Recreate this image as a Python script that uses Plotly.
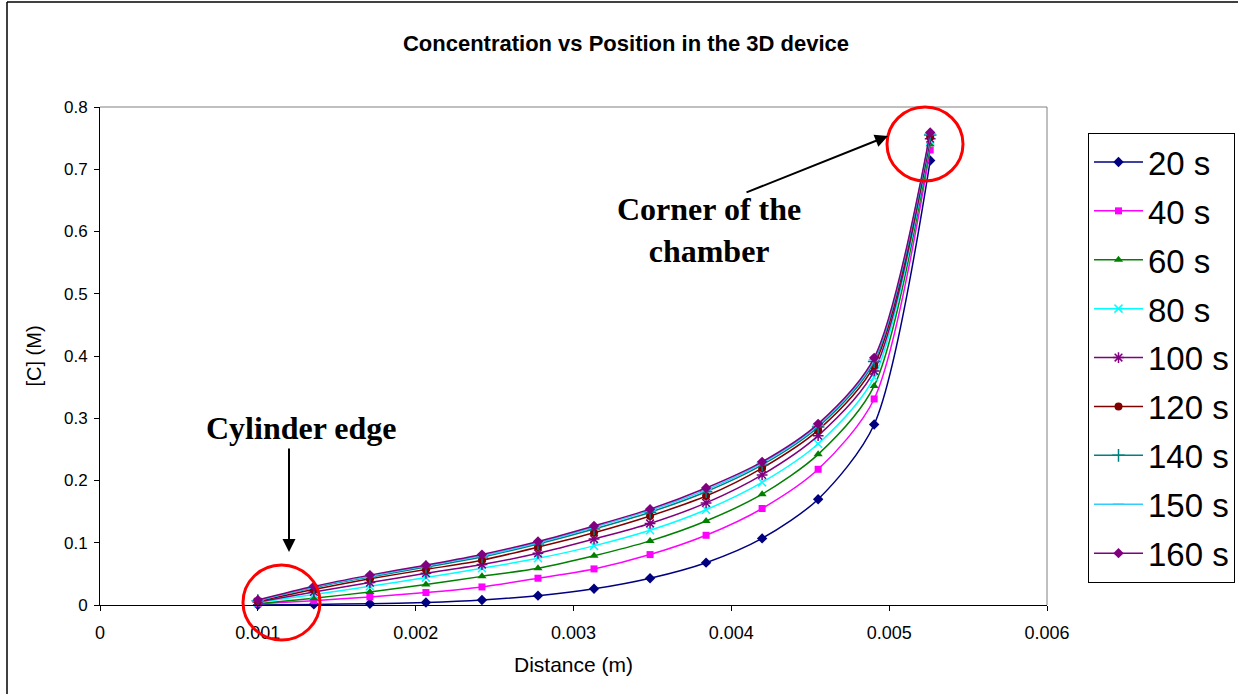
import plotly.graph_objects as go

# Sample positions along the device (m)
distance = [0.001, 0.001355, 0.00171, 0.002065, 0.00242, 0.002775, 0.00313,
            0.003485, 0.00384, 0.004195, 0.00455, 0.004905, 0.00526]

# Concentration [C] (M) at each time step
c_20s = [0.000, 0.001, 0.002, 0.004, 0.008, 0.015, 0.026, 0.043, 0.068, 0.107, 0.170, 0.290, 0.714]
c_40s = [0.002, 0.007, 0.013, 0.020, 0.029, 0.043, 0.058, 0.081, 0.112, 0.155, 0.218, 0.331, 0.731]
c_60s = [0.002, 0.011, 0.021, 0.033, 0.046, 0.059, 0.079, 0.103, 0.135, 0.178, 0.242, 0.352, 0.740]
c_80s = [0.004, 0.017, 0.030, 0.044, 0.059, 0.075, 0.095, 0.120, 0.153, 0.197, 0.259, 0.366, 0.746]
c_100s = [0.005, 0.021, 0.036, 0.051, 0.065, 0.083, 0.106, 0.131, 0.164, 0.209, 0.272, 0.376, 0.749]
c_120s = [0.006, 0.025, 0.042, 0.057, 0.072, 0.093, 0.116, 0.143, 0.175, 0.220, 0.281, 0.385, 0.752]
c_140s = [0.007, 0.028, 0.045, 0.061, 0.077, 0.098, 0.122, 0.149, 0.182, 0.225, 0.286, 0.391, 0.755]
c_150s = [0.007, 0.029, 0.046, 0.063, 0.079, 0.100, 0.125, 0.152, 0.185, 0.228, 0.289, 0.394, 0.757]
c_160s = [0.008, 0.030, 0.048, 0.064, 0.081, 0.102, 0.127, 0.154, 0.188, 0.230, 0.291, 0.397, 0.759]

series_names = ["20 s", "40 s", "60 s", "80 s", "100 s", "120 s", "140 s", "150 s", "160 s"]
series_values = [c_20s, c_40s, c_60s, c_80s, c_100s, c_120s, c_140s, c_150s, c_160s]

x_tick_values = [0, 0.001, 0.002, 0.003, 0.004, 0.005, 0.006]
x_tick_labels = ["0", "0.001", "0.002", "0.003", "0.004", "0.005", "0.006"]
y_tick_values = [0, 0.1, 0.2, 0.3, 0.4, 0.5, 0.6, 0.7, 0.8]
y_tick_labels = ["0", "0.1", "0.2", "0.3", "0.4", "0.5", "0.6", "0.7", "0.8"]

# Line colour, marker symbol, marker size per series
styles = [
    ("#000080", "diamond", 8),
    ("#FF00FF", "square", 7),
    ("#008000", "triangle-up", 8),
    ("#00FFFF", "x-thin", 8),
    ("#800080", "asterisk", 9),
    ("#800000", "circle", 8),
    ("#008080", "cross-thin", 9),
    ("#33CCFF", "line-ew", 8),
    ("#800080", "diamond", 8),
]

SANS = "Liberation Sans, Arial, sans-serif"
SERIF = "Liberation Serif, Times New Roman, serif"

fig = go.Figure()
for i, (name, vals) in enumerate(zip(series_names, series_values)):
    color, symbol, size = styles[i]
    outline = 1.5 if ("thin" in symbol or symbol in ("asterisk", "line-ew")) else 0
    fig.add_trace(go.Scatter(
        x=distance, y=vals, name=name, mode="lines+markers",
        line=dict(color=color, width=1.5, shape="spline", smoothing=0.8),
        marker=dict(symbol=symbol, size=size, color=color,
                    line=dict(color=color, width=outline)),
        cliponaxis=False, legendgroup=name,
    ))

# Plot area pixel geometry: x 100..1047, y 107..605
L, R, T, B = 100, 1047, 107, 605
W, H = 1238, 694


def px(xp):
    return (xp - L) / (R - L)


def py(yp):
    return (B - yp) / (B - T)


shapes = [
    # grey plot-area frame on top and right
    dict(type="line", xref="paper", yref="paper", x0=0, x1=1, y0=1, y1=1,
         line=dict(color="#808080", width=1)),
    dict(type="line", xref="paper", yref="paper", x0=1, x1=1, y0=0, y1=1,
         line=dict(color="#808080", width=1)),
    # outer chart frame (top and left)
    dict(type="line", xref="paper", yref="paper", x0=px(7), x1=px(W), y0=py(2), y1=py(2),
         line=dict(color="black", width=1.5)),
    dict(type="line", xref="paper", yref="paper", x0=px(7), x1=px(7), y0=py(2), y1=py(H),
         line=dict(color="black", width=1.5)),
    # red highlight circles
    dict(type="circle", xref="paper", yref="paper", x0=px(243), x1=px(320), y0=py(640), y1=py(565),
         line=dict(color="#FF0000", width=3)),
    dict(type="circle", xref="paper", yref="paper", x0=px(887), x1=px(963), y0=py(181), y1=py(107),
         line=dict(color="#FF0000", width=3)),
]

annotations = [
    dict(text="<b>Cylinder edge</b>", xref="paper", yref="paper", x=px(301), y=py(428),
         showarrow=False, font=dict(family=SERIF, size=32, color="black"),
         xanchor="center", yanchor="middle"),
    dict(text="<b>Corner of the<br>chamber</b>", xref="paper", yref="paper", x=px(709), y=py(230),
         showarrow=False, font=dict(family=SERIF, size=32, color="black"),
         xanchor="center", yanchor="middle"),
    dict(text="", xref="paper", yref="paper", x=px(289), y=py(552), ax=0, ay=-105,
         showarrow=True, arrowhead=2, arrowsize=1.3, arrowwidth=2, arrowcolor="black", standoff=0),
    dict(text="", xref="paper", yref="paper", x=px(888), y=py(136), ax=-143, ay=57,
         showarrow=True, arrowhead=2, arrowsize=1.3, arrowwidth=2, arrowcolor="black", standoff=0),
]

fig.update_layout(
    width=W, height=H,
    margin=dict(l=L, r=W - R, t=T, b=H - B, pad=0, autoexpand=False),
    paper_bgcolor="white", plot_bgcolor="white",
    title=dict(text="<b>Concentration vs Position in the 3D device</b>",
               x=626 / W, xanchor="center", y=1 - 43 / H, yanchor="middle",
               font=dict(family=SANS, size=22, color="black")),
    xaxis=dict(range=[0, 0.006], tickvals=x_tick_values, ticktext=x_tick_labels,
               showgrid=False, zeroline=False, showline=True, linecolor="black", linewidth=1,
               ticks="outside", ticklen=5, tickcolor="black", ticklabelstandoff=6,
               tickfont=dict(family=SANS, size=18, color="black"),
               title=dict(text="Distance (m)", font=dict(family=SANS, size=21, color="black"), standoff=15)),
    yaxis=dict(range=[0, 0.8], tickvals=y_tick_values, ticktext=y_tick_labels,
               showgrid=False, zeroline=False, showline=True, linecolor="black", linewidth=1,
               ticks="outside", ticklen=5, tickcolor="black", ticklabelstandoff=3,
               tickfont=dict(family=SANS, size=17, color="black"),
               title=dict(text="[C] (M)", font=dict(family=SANS, size=20, color="black"), standoff=16)),
    legend=dict(x=px(1088), y=py(133), xanchor="left", yanchor="top",
                bgcolor="white", bordercolor="black", borderwidth=1,
                font=dict(family=SANS, size=33, color="black"),
                tracegroupgap=3, itemwidth=49),
    shapes=shapes, annotations=annotations,
    showlegend=True,
)

fig.write_html("out.html")
